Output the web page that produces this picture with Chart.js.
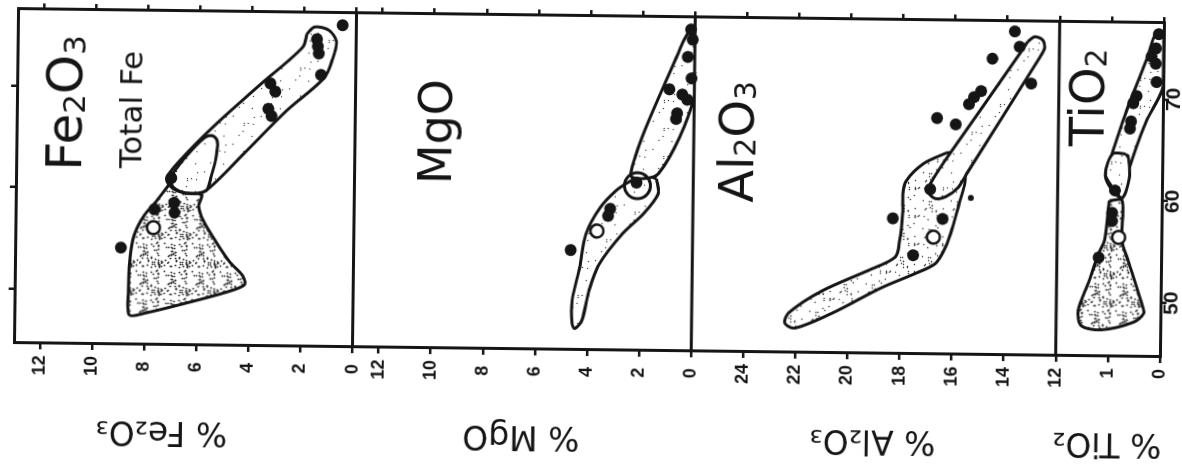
<!DOCTYPE html>
<html>
<head>
<meta charset="utf-8">
<script src="https://cdn.jsdelivr.net/npm/chart.js@4.4.1/dist/chart.umd.min.js"></script>
<style>
  html, body { margin: 0; padding: 0; background: #fff; overflow: hidden; }
  /* the scanned figure sits turned on its side and a little skewed */
  #page { position: absolute; left: 0; top: 0; width: 1182px; height: 465px;
          transform-origin: 584px 182px; transform: rotate(0.7deg); }
  #turn { position: absolute; left: 0; top: 0; width: 465px; height: 1182px;
          transform-origin: 0 0; transform: translateY(465px) rotate(-90deg); }
</style>
</head>
<body>
<div id="page"><div id="turn"><canvas id="harker" width="465" height="1182"></canvas></div></div>
<script>
// tick labels
const siO2Ticks = [50, 60, 70];
const fe2o3Ticks = [0, 2, 4, 6, 8, 10, 12];
const mgoTicks = [0, 2, 4, 6, 8, 10, 12];
const al2o3Ticks = [12, 14, 16, 18, 20, 22, 24];
const tio2Ticks = [0, 1];

// samples, [SiO2, oxide] in wt %
const fe2o3Dots = [[76.3, 0.53], [74.9, 1.51], [74.2, 1.47], [73.5, 1.43], [71.4, 1.34], [70.5, 3.28], [69.7, 3.08],
  [68.0, 3.34], [67.3, 3.22], [61.1, 7.04], [58.65, 6.91], [57.7, 6.90], [58.0, 7.67], [54.2, 8.94]];
const fe2o3Open = [[56.2, 7.70]];
const mgoDots = [[76.3, 0.15], [75.3, 0.08], [73.6, 0.27], [71.5, 0.11], [70.4, 0.96], [69.9, 0.46], [69.4, 0.27],
  [68.05, 0.65], [67.5, 0.69], [61.2, 2.18], [58.6, 3.17], [57.9, 3.25], [54.5, 4.67]];
const mgoOpen = [[56.4, 3.67]];
const mgoRing = [[60.9, 2.14]];
const al2o3Dots = [[76.5, 13.72], [75.0, 13.53], [73.8, 14.57], [71.4, 13.07], [70.6, 14.99], [70.0, 15.26], [69.3, 15.45],
  [67.9, 16.67], [67.3, 15.95], [60.9, 16.90], [58.0, 18.32], [58.0, 16.41], [54.4, 17.52]];
const al2o3Speck = [[60.1, 15.33]];
const al2o3Open = [[56.2, 16.75]];
const tio2Dots = [[76.4, 0.095], [75.0, 0.15], [74.2, 0.23], [73.5, 0.15], [71.7, 0.13], [70.3, 0.51], [69.6, 0.57],
  [67.8, 0.61], [67.1, 0.63], [61.0, 0.90], [58.8, 0.95], [58.0, 0.95], [54.4, 1.20]];
const tio2Open = [[56.4, 0.82]];

// outlined fields, [SiO2, oxide]
const fe2o3Upper = [[75.4, 1.90], [76.1, 1.60], [75.8, 1.06], [74.7, 0.76], [72.9, 0.91], [71.1, 1.22], [67.8, 2.66],
  [63.8, 4.18], [59.9, 5.70], [59.6, 6.27], [60.0, 6.92], [61.0, 7.22], [63.0, 6.65], [66.5, 5.32], [70.5, 3.61], [74.1, 2.05]];
const fe2o3Inner = [[61.1, 7.11], [63.3, 6.46], [65.1, 5.78], [65.3, 5.48], [64.8, 5.29], [63.3, 5.32], [61.3, 5.51],
  [59.9, 5.70], [59.65, 6.46], [60.2, 6.96]];
const fe2o3Lower = [[60.5, 7.11], [58.8, 7.60], [57.4, 8.06], [55.4, 8.44], [52.9, 8.59], [50.0, 8.63], [47.6, 8.59],
  [47.8, 7.98], [48.8, 6.46], [49.9, 4.94], [50.7, 4.18], [51.6, 4.26], [52.9, 4.75], [55.0, 5.32], [56.9, 5.78],
  [58.4, 5.97], [59.5, 5.86], [59.65, 6.46]];
const mgoUpper = [[76.7, 0.11], [76.1, 0], [69.7, 0], [62.1, 1.34], [62.0, 2.41], [74.8, 0.50]];
const mgoLower = [[61.6, 1.41], [60.1, 1.34], [58.1, 1.91], [56.2, 2.68], [53.2, 3.56], [50.6, 3.94], [47.6, 4.21],
  [46.8, 4.48], [47.3, 4.59], [49.6, 4.59], [52.8, 4.32], [56.1, 4.09], [58.7, 3.56], [60.4, 2.95], [61.35, 2.41], [62.0, 1.91]];
const al2o3Upper = [[75.5, 13.23], [76.0, 12.96], [75.7, 12.65], [74.9, 12.57], [73.9, 12.77], [62.4, 15.52], [61.1, 15.83],
  [60.2, 16.29], [60.0, 16.71], [60.7, 16.98], [61.9, 16.79], [64.5, 16.14], [74.7, 13.42]];
const al2o3Lower = [[64.5, 16.29], [63.4, 17.17], [61.7, 17.82], [60.4, 17.94], [58.5, 17.94], [55.8, 18.05], [54.2, 18.21],
  [52.9, 19.20], [50.8, 21.00], [48.6, 22.27], [47.6, 22.42], [47.1, 22.04], [48.6, 20.62], [51.2, 18.70], [52.6, 17.44],
  [53.6, 16.67], [55.2, 16.29], [57.2, 16.02], [59.8, 15.75], [61.75, 15.56], [63.7, 15.64], [64.5, 15.75]];
const tio2Upper = [[76.8, 0.095], [76.3, 0], [71.3, 0], [67.8, 0.32], [63.2, 0.63], [60.3, 0.76], [61.0, 0.95], [62.4, 1.09],
  [63.9, 1.01], [68.8, 0.70], [74.0, 0.32], [76.1, 0.19]];
const tio2Inner = [[64.6, 0.70], [64.6, 0.95], [62.6, 1.09], [61.3, 0.95], [60.3, 0.76], [62.25, 0.63], [64.2, 0.65]];
const tio2Lower = [[60.0, 1.01], [56.1, 1.09], [54.8, 1.20], [51.9, 1.39], [49.2, 1.58], [47.7, 1.52], [47.3, 1.14],
  [48.1, 0.51], [49.0, 0.32], [50.2, 0.38], [54.1, 0.63], [56.1, 0.76], [60.0, 0.76]];

const ink = '#151515';

// dotted fill like the hand stipple of the original
function stipple(count, r) {
  const tile = document.createElement('canvas');
  tile.width = 28; tile.height = 28;
  const c = tile.getContext('2d');
  c.fillStyle = '#fff';
  c.fillRect(0, 0, 28, 28);
  c.fillStyle = '#3a3a3a';
  let seed = 11;
  for (let i = 0; i < count; i++) {
    seed = (seed * 48271) % 2147483647; const px = seed % 28;
    seed = (seed * 48271) % 2147483647; const py = seed % 28;
    c.beginPath(); c.arc(px + 0.5, py + 0.5, r, 0, Math.PI * 2); c.fill();
  }
  return c.createPattern(tile, 'repeat');
}
const light = stipple(9, 0.7);
const medium = stipple(26, 0.8);
const dense = stipple(62, 0.9);

const toXY = list => list.map(([si, v]) => ({x: si, y: v}));

function field(list, axis, pattern) {
  const pts = toXY(list);
  return {data: pts.concat([pts[0]]), yAxisID: axis, showLine: true, fill: 'shape', backgroundColor: pattern,
    borderColor: ink, borderWidth: 3, pointRadius: 0, tension: 0.3};
}
function marks(list, axis, radius, face, edge) {
  return {data: toXY(list), yAxisID: axis, showLine: false, pointRadius: radius, backgroundColor: face,
    borderColor: ink, borderWidth: edge, clip: 12};
}

const datasets = [
  marks(fe2o3Dots, 'yFe', 6, ink, 0), marks(fe2o3Open, 'yFe', 6.5, '#fff', 2.5),
  marks(mgoDots, 'yMg', 6, ink, 0), marks(mgoOpen, 'yMg', 6.5, '#fff', 2.5), marks(mgoRing, 'yMg', 13, 'rgba(0,0,0,0)', 3),
  marks(al2o3Dots, 'yAl', 6, ink, 0), marks(al2o3Speck, 'yAl', 3, ink, 0), marks(al2o3Open, 'yAl', 6.5, '#fff', 2.5),
  marks(tio2Dots, 'yTi', 6, ink, 0), marks(tio2Open, 'yTi', 6.5, '#fff', 2.5),
  field(fe2o3Inner, 'yFe', light), field(fe2o3Upper, 'yFe', light), field(fe2o3Lower, 'yFe', dense),
  field(mgoUpper, 'yMg', light), field(mgoLower, 'yMg', light),
  field(al2o3Upper, 'yAl', light), field(al2o3Lower, 'yAl', medium),
  field(tio2Inner, 'yTi', light), field(tio2Upper, 'yTi', light), field(tio2Lower, 'yTi', dense),
];

const fixTicks = values => axis => { axis.ticks = values.map(v => ({value: v})); };
const fixSize = size => axis => {
  if (axis.isHorizontal()) axis.height = size; else axis.width = size;
  axis.paddingLeft = axis.paddingRight = axis.paddingTop = axis.paddingBottom = 0;
};
const tickGrid = {drawOnChartArea: false, drawTicks: true, tickLength: 6, tickWidth: 2.5, tickColor: ink, color: ink, lineWidth: 2.5};
const frame = {display: true, color: ink, width: 3};
const tickFont = {family: 'Liberation Sans', size: 18, weight: 'bold'};
const titleFont = {family: 'DejaVu Sans', size: 33};

function oxide(min, max, values, share, weight, title) {
  return {type: 'linear', position: 'left', stack: 'oxides', stackWeight: share, weight: weight, z: 1, min: min, max: max,
    afterBuildTicks: fixTicks(values), afterFit: fixSize(115),
    ticks: {crossAlign: 'center', padding: 6, font: tickFont, color: ink, autoSkip: false},
    title: {display: true, text: title, font: titleFont, color: ink, padding: {top: 10, bottom: 0}},
    grid: tickGrid, border: frame};
}
function mirror(min, max, values, share, weight) {
  return {type: 'linear', position: 'right', stack: 'mirror', stackWeight: share, weight: weight, z: 1, min: min, max: max,
    afterBuildTicks: fixTicks(values), afterFit: fixSize(14), ticks: {display: false}, grid: tickGrid, border: frame};
}

// lines between the four panels
const panelFrames = {
  id: 'panelFrames',
  afterDatasetsDraw(chart) {
    const {ctx, chartArea} = chart;
    ctx.save();
    ctx.strokeStyle = ink;
    ctx.lineWidth = 3;
    ['yMg', 'yAl', 'yTi'].forEach(id => {
      const top = chart.scales[id].top;
      ctx.beginPath(); ctx.moveTo(chartArea.left, top); ctx.lineTo(chartArea.right, top); ctx.stroke();
    });
    ctx.restore();
  }
};

// big names written inside each panel
const panelNames = [
  {parts: [['Fe', 0], ['2', 1], ['O', 0], ['3', 1]], si: 61.7, axis: 'yFe', at: 10.5, size: 50},
  {parts: [['Total Fe', 0]], si: 62.0, axis: 'yFe', at: 8.2, size: 31},
  {parts: [['MgO', 0]], si: 60.8, axis: 'yMg', at: 9.29, size: 46},
  {parts: [['Al', 0], ['2', 1], ['O', 0], ['3', 1]], si: 59.35, axis: 'yAl', at: 23.7, size: 48},
  {parts: [['TiO', 0], ['2', 1]], si: 65.3, axis: 'yTi', at: 1.14, size: 48},
];
const nameLabels = {
  id: 'nameLabels',
  afterDraw(chart) {
    const ctx = chart.ctx;
    ctx.save();
    ctx.fillStyle = ink;
    ctx.textBaseline = 'alphabetic';
    panelNames.forEach(n => {
      let x = chart.scales.x.getPixelForValue(n.si);
      const y = chart.scales[n.axis].getPixelForValue(n.at);
      n.parts.forEach(([t, sub]) => {
        const s = sub ? n.size * 0.62 : n.size;
        ctx.font = s + 'px "DejaVu Sans"';
        ctx.fillText(t, x, y + (sub ? n.size * 0.05 : 0));
        x += ctx.measureText(t).width;
      });
    });
    ctx.restore();
  }
};

new Chart(document.getElementById('harker'), {
  type: 'scatter',
  data: {datasets: datasets},
  plugins: [panelFrames, nameLabels],
  options: {
    responsive: false,
    animation: false,
    events: [],
    layout: {padding: 0},
    plugins: {legend: {display: false}, tooltip: {enabled: false}},
    scales: {
      x: {type: 'linear', position: 'bottom', z: 1, min: 44.7, max: 77.5,
        afterBuildTicks: fixTicks(siO2Ticks), afterFit: fixSize(20),
        ticks: {font: {family: 'Liberation Sans', size: 21, weight: 'bold'}, color: ink, padding: -7, maxRotation: 0, autoSkip: false},
        grid: tickGrid, border: frame},
      xTop: {type: 'linear', position: 'top', z: 1, min: 44.7, max: 77.5,
        afterBuildTicks: fixTicks(siO2Ticks), afterFit: fixSize(11), ticks: {display: false}, grid: tickGrid, border: frame},
      yFe: oxide(0, 13, fe2o3Ticks, 13, 4, '    % Fe₂O₃'),
      yMg: oxide(0, 13, mgoTicks, 13, 3, '% MgO'),
      yAl: oxide(12, 26, al2o3Ticks, 14, 2, '% Al₂O₃'),
      yTi: oxide(0, 2, tio2Ticks, 4, 1, '% TiO₂'),
      yFeM: mirror(0, 13, fe2o3Ticks, 13, 1),
      yMgM: mirror(0, 13, mgoTicks, 13, 2),
      yAlM: mirror(12, 26, al2o3Ticks, 14, 3),
      yTiM: mirror(0, 2, tio2Ticks, 4, 4),
    }
  }
});
</script>
</body>
</html>
